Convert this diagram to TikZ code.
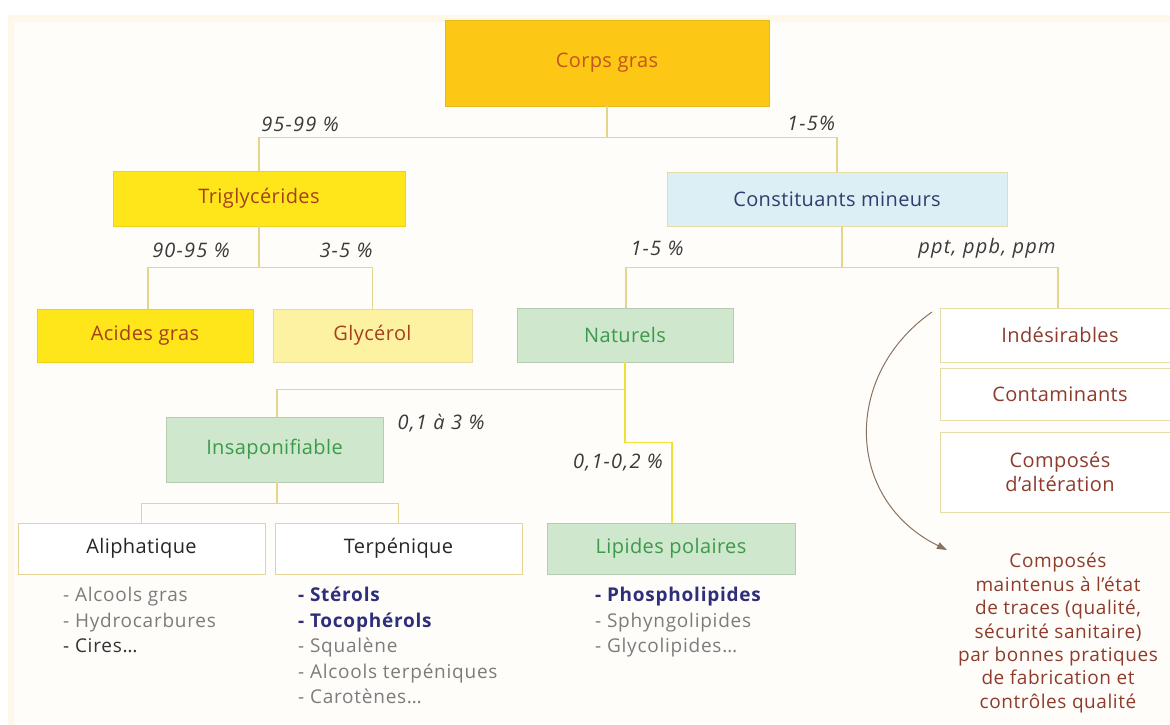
\documentclass[tikz,border=0pt]{standalone}
\usepackage{fontspec}
\setmainfont{Open Sans}
\newfontfamily\boxfont[LetterSpace=2]{Open Sans}
\newfontfamily\pctfont[LetterSpace=6]{Open Sans}
\newfontfamily\itemfont[LetterSpace=4]{Open Sans}
\newfontfamily\notefont[LetterSpace=3]{Open Sans}
\usetikzlibrary{arrows.meta}
\definecolor{cream}{HTML}{FFF8EA}
\definecolor{creamin}{HTML}{FFFDF9}
\definecolor{cgfill}{HTML}{FDC815}
\definecolor{cgtext}{HTML}{C2561C}
\definecolor{yfill}{HTML}{FFE61A}
\definecolor{ytext}{HTML}{A5401C}
\definecolor{pyfill}{HTML}{FCF2A2}
\definecolor{bfill}{HTML}{DCEFF5}
\definecolor{btext}{HTML}{2E3E6E}
\definecolor{gfill}{HTML}{CFE7CC}
\definecolor{gtext}{HTML}{3C9A4C}
\definecolor{bordc}{HTML}{E6DCA8}
\definecolor{linec}{HTML}{E3D68A}
\definecolor{liney}{HTML}{EEE035}
\definecolor{redtext}{HTML}{8E3B2C}
\definecolor{pcttext}{HTML}{3A3A3A}
\definecolor{graytext}{HTML}{7C7C7C}
\definecolor{navy}{HTML}{2E2F7A}
\definecolor{arcc}{HTML}{8A7260}
\begin{document}
\begin{tikzpicture}[x=1pt,y=-1pt,
  boxbase/.style={rectangle, inner sep=0pt, align=center, line width=0.9pt,
    font=\boxfont\fontsize{20}{24}\selectfont},
  cgbox/.style={boxbase, fill=cgfill, draw=cgfill!92!black, text=cgtext},
  ybox/.style={boxbase, fill=yfill, draw=yfill!92!black, text=ytext},
  pybox/.style={boxbase, fill=pyfill, draw=bordc, text=ytext},
  bbox/.style={boxbase, fill=bfill, draw=bordc, text=btext},
  gbox/.style={boxbase, fill=gfill, draw=gfill!88!black, text=gtext},
  wbox/.style={boxbase, fill=white, draw=bordc, text=redtext},
  wkbox/.style={boxbase, fill=white, draw=bordc!90!orange, text=black!85},
  conn/.style={draw=linec, line width=1.1pt},
  conny/.style={draw=liney, line width=1.3pt},
  pct/.style={font=\pctfont\fontsize{20}{24}\itshape\selectfont, text=pcttext, inner sep=0pt},
  item/.style={anchor=west, inner sep=0pt, text height=13pt, text depth=4pt,
    font=\itemfont\fontsize{19}{22}\selectfont, text=graytext},
  itemb/.style={item, font=\itemfont\fontsize{19}{22}\bfseries\selectfont, text=navy},
  arcline/.style={draw=arcc, line width=1pt, -{Triangle[length=10pt,width=7pt]}}
]
\useasboundingbox (0,0) rectangle (1170,725);
\fill[white] (0,0) rectangle (1170,725);
\fill[cream] (8,15) rectangle (1170,725);
\fill[creamin] (14,22) rectangle (1170,725);

% boxes
\node[cgbox, minimum width=324pt, minimum height=86pt] (cg) at (607,63) {Corps gras};
\node[ybox, minimum width=292pt, minimum height=55pt] (tg) at (259,198.5) {Triglycérides};
\node[bbox, minimum width=340pt, minimum height=54pt] (cm) at (837,199) {Constituants mineurs};
\node[ybox, minimum width=216pt, minimum height=53pt] (ag) at (145,335.5) {Acides gras};
\node[pybox, minimum width=199pt, minimum height=53pt] (gl) at (372.5,335.5) {Glycérol};
\node[gbox, minimum width=216pt, minimum height=54pt] (na) at (625,335) {Naturels};
\node[wbox, minimum width=240pt, minimum height=54pt] (ind) at (1060,335) {Indésirables};
\node[wbox, minimum width=240pt, minimum height=52pt] (con) at (1060,394) {Contaminants};
\node[wbox, minimum width=240pt, minimum height=80pt] (alt) at (1060,472) {Composés\\d’altération};
\node[gbox, minimum width=217pt, minimum height=65pt] (ins) at (274.5,449.5) {Insaponifiable};
\node[wkbox, minimum width=247pt, minimum height=51pt] (ali) at (141.5,548.5) {Aliphatique};
\node[wkbox, minimum width=247pt, minimum height=51pt] (ter) at (398.5,548.5) {Terpénique};
\node[gbox, minimum width=248pt, minimum height=51pt] (lp) at (671,548.5) {Lipides polaires};

% connectors
\draw[conn] (cg.south) -- ++(0,31) coordinate (j1);
\draw[conn] (tg.north) |- (j1) -| (cm.north);
\draw[conn] (tg.south) -- ++(0,41) coordinate (j2);
\draw[conn] ([xshift=3pt]ag.north) |- (j2) -| (gl.north);
\draw[conn] ([xshift=5pt]cm.south) -- ++(0,41) coordinate (j3);
\draw[conn] ([xshift=1pt]na.north) |- (j3) -| ([xshift=-2pt]ind.north);
\path (na.south) ++(0,27) coordinate (j5);
\draw[conn] ([xshift=2.5pt]ins.north) |- (j5);
\draw[conny] (na.south) -- ++(0,80) coordinate (j4) -| ([xshift=1pt]lp.north);
\draw[conn] ([xshift=2.5pt]ins.south) -- ++(0,21) coordinate (j6);
\draw[conn] (ali.north) |- (j6) -| (ter.north);

% percentages
\node[pct] (p1) at (300,124) {95-99 \%};
\node[pct] (p2) at (811,123) {1-5\%};
\node[pct] (p3) at (191,250) {90-95 \%};
\node[pct] (p4) at (346,250) {3-5 \%};
\node[pct] (p5) at (657,248) {1-5 \%};
\node[pct] (p6) at (987,248) {ppt, ppb, ppm};
\node[pct] (p7) at (441,423) {0,1 à 3 \%};
\node[pct] (p8) at (618,463) {0,1-0,2 \%};

% lists
\node[item] (a1) at (63,597) {- Alcools gras};
\node[item] (a2) at (63,622.5) {- Hydrocarbures};
\node[item, text=black!80] (a3) at (63,648) {- Cires…};
\node[itemb] (t1) at (298,597) {- Stérols};
\node[itemb] (t2) at (298,622.5) {- Tocophérols};
\node[item] (t3) at (298,648) {- Squalène};
\node[item] (t4) at (298,673.5) {- Alcools terpéniques};
\node[item] (t5) at (298,699) {- Carotènes…};
\node[itemb] (l1) at (595,597) {- Phospholipides};
\node[item] (l2) at (595,622.5) {- Sphyngolipides};
\node[item] (l3) at (595,648) {- Glycolipides…};

% final note and arc
\node[align=center, inner sep=0pt, text=redtext, font=\notefont\fontsize{19}{23.4}\selectfont] (fin) at (1058,633)
  {Composés\\maintenus à l’état\\de traces (qualité,\\sécurité sanitaire)\\par bonnes pratiques\\de fabrication et\\contrôles qualité};
\coordinate (as) at (932,312);
\coordinate (ae) at (947,550);
\draw[arcline] (as) .. controls (842,375) and (845,500) .. (ae);
\end{tikzpicture}
\end{document}
